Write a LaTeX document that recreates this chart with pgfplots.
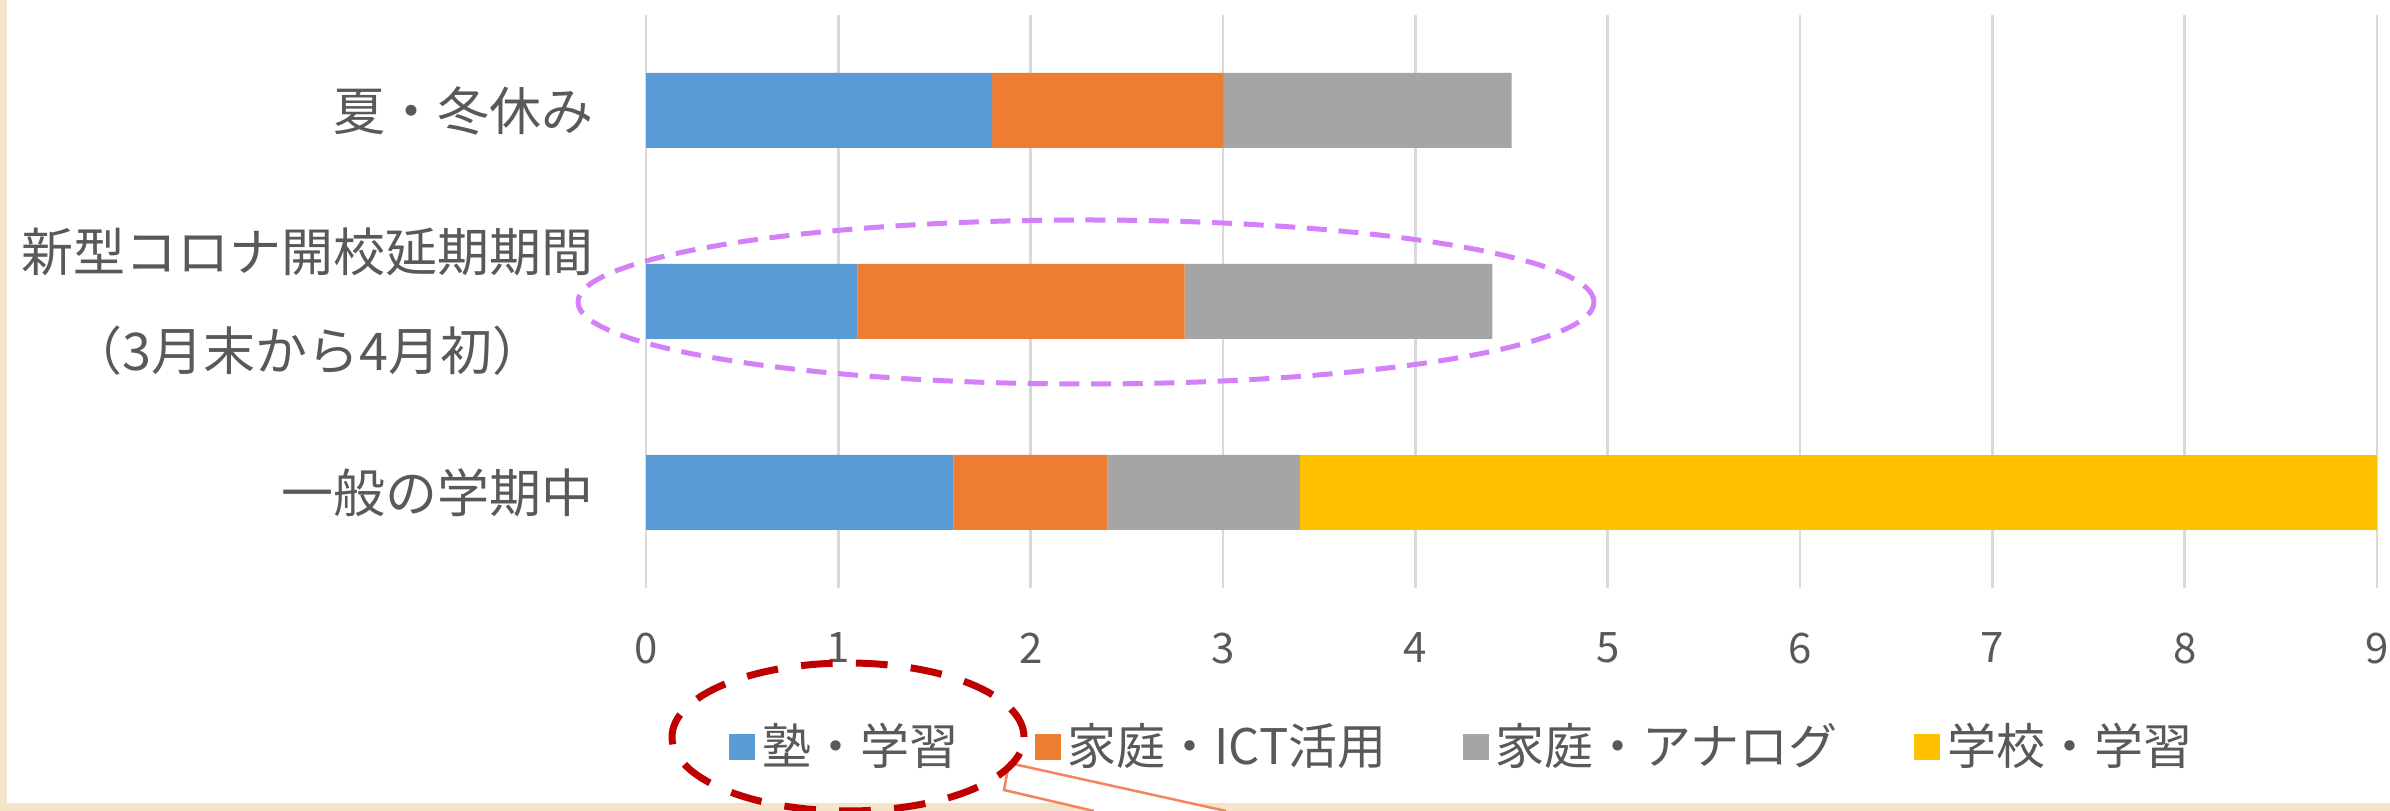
\documentclass[border=0pt]{standalone}
\usepackage{fontspec}
\setmainfont{Noto Sans CJK JP}
\usepackage{pgfplots}
\pgfplotsset{compat=1.18}

\definecolor{txt}{HTML}{595959}
\definecolor{gridc}{HTML}{D9D9D9}
\definecolor{c1}{HTML}{5B9BD5}
\definecolor{c2}{HTML}{ED7D31}
\definecolor{c3}{HTML}{A5A5A5}
\definecolor{c4}{HTML}{FFC000}
\definecolor{beige}{HTML}{F4E4C9}
\definecolor{violet}{HTML}{D480F8}
\definecolor{dred}{HTML}{C00000}
\definecolor{coral}{HTML}{F4845F}

\begin{document}
\begin{tikzpicture}
\useasboundingbox (0,0) rectangle (717pt,243.3pt);
% page background with the beige frame on the left and bottom
\fill[beige] (0,0) rectangle (717pt,243.3pt);
\fill[white] (2.1pt,2.4pt) rectangle (717pt,243.3pt);

\begin{axis}[
  at={(193.8pt,66.9pt)}, anchor=south west,
  scale only axis, width=519.3pt, height=171.9pt,
  xbar stacked, bar width=22.5pt,
  xmin=0, xmax=9, ymin=-0.5, ymax=2.5,
  xtick={0,1,...,9}, ytick={0,1,2},
  yticklabels={一般の学期中,{新型コロナ開校延期期間\\（3月末から4月初）},夏・冬休み},
  axis line style={draw=none},
  major tick length=0pt,
  xmajorgrids, grid style={gridc, line width=0.8pt},
  /pgf/number format/assume math mode=true,
  xticklabel style={font=\fontsize{12.6}{14}\selectfont, text=txt, inner sep=0pt, anchor=north, yshift=-13.2pt},
  yticklabel style={font=\fontsize{15.6}{29.7}\selectfont, text=txt, align=center, inner sep=0pt, anchor=east, xshift=-15.6pt},
  legend columns=4,
  legend style={at={(axis description cs:0.4726,-0.277)}, anchor=center, draw=none, fill=none,
    font=\fontsize{14.7}{17}\selectfont, text=txt,
    /tikz/every even column/.append style={column sep=21pt}},
  legend image code/.code={\fill[#1] (0pt,-3.9pt) rectangle (7.8pt,3.9pt);},
]
\addplot[fill=c1, draw=none] coordinates {(1.6,0) (1.1,1) (1.8,2)};
\addplot[fill=c2, draw=none] coordinates {(0.8,0) (1.7,1) (1.2,2)};
\addplot[fill=c3, draw=none] coordinates {(1.0,0) (1.6,1) (1.5,2)};
\addplot[fill=c4, draw=none] coordinates {(5.6,0) (0,1) (0,2)};
\legend{塾・学習,家庭・ICT活用,家庭・アナログ,学校・学習}
\end{axis}

% annotations
\draw[violet, line width=1.5pt, dash pattern=on 6pt off 3.5pt] (325.8pt,152.7pt) ellipse [x radius=152.4pt, y radius=24.6pt];
\begin{scope}
\clip (0,0) rectangle (717pt,243.3pt);
\fill[white] (367.8pt,0pt) -- (302.7pt,14.4pt) -- (301.2pt,6.3pt) -- (328.2pt,0pt) -- cycle;
\draw[coral, line width=0.75pt] (367.8pt,0pt) -- (302.7pt,14.4pt) -- (301.2pt,6.3pt) -- (328.2pt,0pt);
\draw[dred, line width=2.1pt, dash pattern=on 9.5pt off 7pt] (254.4pt,22.2pt) ellipse [x radius=52.8pt, y radius=22.2pt];
\end{scope}
\end{tikzpicture}
\end{document}
